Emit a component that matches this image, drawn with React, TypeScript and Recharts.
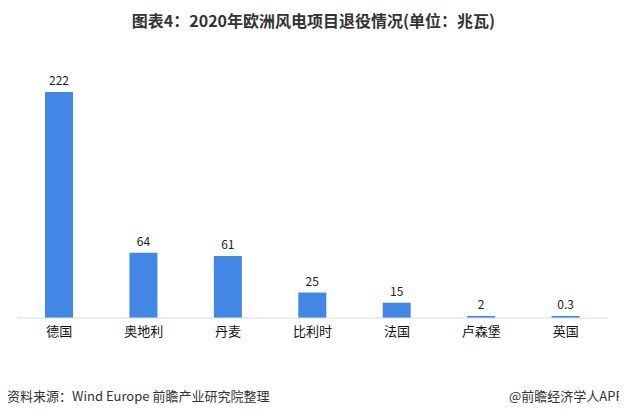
import { BarChart, Bar, XAxis, YAxis, LabelList } from 'recharts';

const countries = ['德国', '奥地利', '丹麦', '比利时', '法国', '卢森堡', '英国'];
const retiredMw = [222, 64, 61, 25, 15, 2, 0.3];

const FONT = '"Noto Sans CJK SC", "Noto Sans", sans-serif';
const BAR_COLOR = '#4287e3';

const chartData = countries.map((name, i) => ({ name, value: retiredMw[i] }));

export default function App() {
  return (
    <div
      style={{
        position: 'relative',
        width: 627,
        height: 416,
        margin: -8,
        background: '#fff',
        fontFamily: FONT,
        overflow: 'hidden',
      }}
    >
      {/* Title */}
      <div
        style={{
          position: 'absolute',
          top: 8,
          left: 0,
          width: 627,
          textAlign: 'center',
          fontSize: 16,
          fontWeight: 'bold',
          color: '#333',
          lineHeight: '24px',
        }}
      >
        图表4：2020年欧洲风电项目退役情况(单位：兆瓦)
      </div>

      <div style={{ position: 'absolute', top: 0, left: 0 }}>
        <BarChart
          width={627}
          height={416}
          data={chartData}
          margin={{ top: 92, right: 19, left: 17, bottom: 68 }}
        >
          <XAxis
            dataKey="name"
            height={30}
            tickLine={false}
            axisLine={{ stroke: '#d9d9d9' }}
            tick={{ fontSize: 13, fill: '#111', fontFamily: FONT }}
            tickMargin={3}
            interval={0}
          />
          <YAxis hide domain={[0, 222]} />
          <Bar
            dataKey="value"
            fill={BAR_COLOR}
            barSize={28}
            minPointSize={2}
            isAnimationActive={false}
          >
            <LabelList
              dataKey="value"
              position="top"
              offset={7}
              style={{ fontSize: 12, fill: '#222', fontFamily: FONT }}
            />
          </Bar>
        </BarChart>
      </div>

      {/* Footer */}
      <div
        style={{
          position: 'absolute',
          top: 386,
          left: 7,
          fontSize: 13,
          color: '#333',
          lineHeight: '20px',
          whiteSpace: 'nowrap',
        }}
      >
        资料来源：Wind Europe 前瞻产业研究院整理
      </div>
      <div
        style={{
          position: 'absolute',
          top: 386,
          left: 509,
          fontSize: 13,
          color: '#333',
          lineHeight: '20px',
          whiteSpace: 'nowrap',
        }}
      >
        @前瞻经济学人APP
      </div>
    </div>
  );
}
